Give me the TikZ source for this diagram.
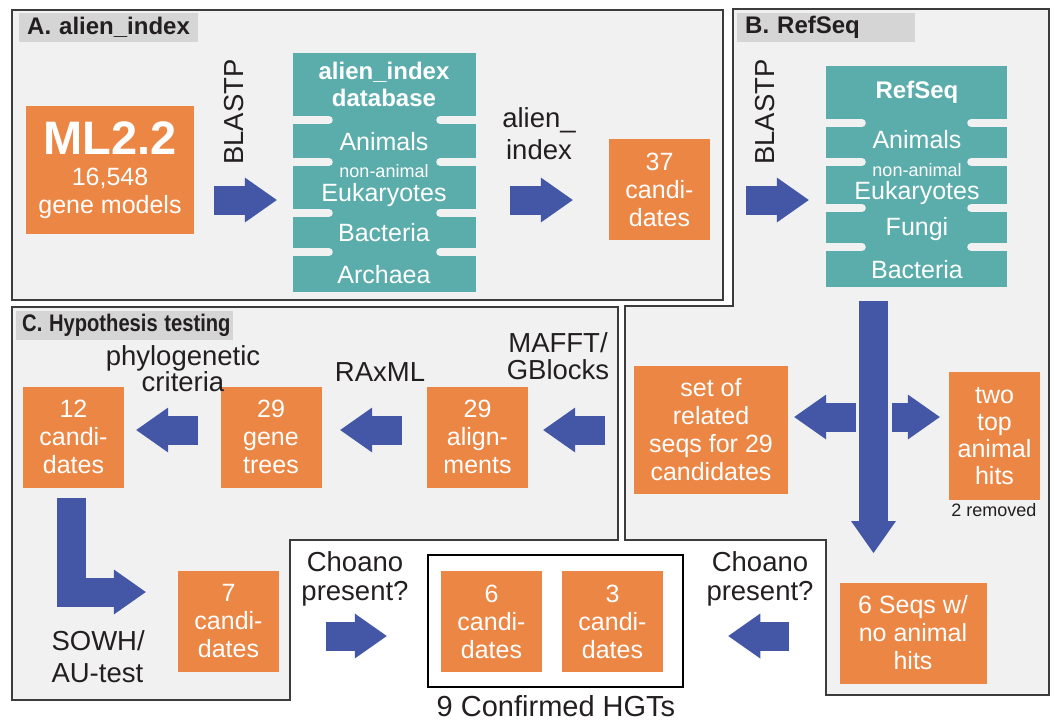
\documentclass[tikz,border=0pt]{standalone}
\usepackage{fontspec}
\setmainfont{Liberation Sans}
\usetikzlibrary{arrows.meta,calc}
\definecolor{boxorange}{RGB}{236,134,68}
\definecolor{dbteal}{RGB}{90,173,171}
\definecolor{arrowblue}{RGB}{67,87,166}
\definecolor{panelgray}{RGB}{241,241,241}
\definecolor{labelgray}{RGB}{213,213,213}
\definecolor{framegray}{RGB}{60,60,60}
\definecolor{inkblack}{RGB}{35,31,32}

\tikzset{
  panel/.style={draw=framegray,fill=panelgray,line width=1.5pt},
  paneltitle/.style={fill=labelgray,anchor=north west,minimum height=29pt,inner xsep=8pt,inner ysep=0pt,font=\fontsize{24}{24}\selectfont\bfseries,text=inkblack,align=left},
  candbox/.style={fill=boxorange,text=white,align=center,minimum width=101pt,minimum height=101pt,inner sep=0pt,font=\fontsize{25}{28}\selectfont},
  dbbox/.style={fill=dbteal,inner sep=0pt},
  dbtext/.style={text=white,inner sep=0pt,font=\fontsize{25}{25}\selectfont},
  dbsmall/.style={text=white,inner sep=0pt,font=\fontsize{18}{18}\selectfont},
  dbtitle/.style={text=white,font=\fontsize{24}{27}\selectfont\bfseries,align=center},
  notch/.style={draw=panelgray,line width=8pt,line cap=round},
  steplabel/.style={text=inkblack,font=\fontsize{27.5}{28}\selectfont,align=center},
  fatarrow/.style={draw=arrowblue,line width=29pt,-{Triangle[length=32pt,width=45pt,line width=0pt]}},
}

\begin{document}
\begin{tikzpicture}[x=1pt,y=-1pt]
  \useasboundingbox (0,0) rectangle (1054,721);

  % panels
  \draw[panel] (12,10) rectangle (723,300);
  \draw[panel] (733,9) -- (1049,9) -- (1049,695) -- (826,695) -- (826,540) -- (625,540) -- (625,306) -- (733,306) -- cycle;
  \draw[panel] (12,307) -- (618,307) -- (618,540) -- (290,540) -- (290,700) -- (12,700) -- cycle;

  \node[paneltitle,text width=163pt] (titleA) at (19,13) {A. alien\_index};
  \node[paneltitle,text width=162pt] (titleB) at (737,13) {B. RefSeq};
  \node[paneltitle,text width=205pt,inner xsep=6pt] (titleC) at (16,311) {\scalebox{0.84}[1]{C. Hypothesis testing}};

  % A. alien_index
  \node[candbox,minimum width=168pt,minimum height=128pt] (ml) at (110,170) {{\fontsize{47}{47}\selectfont\bfseries ML2.2}\\[3pt]16,548\\gene models};
  \node[steplabel,rotate=90] (blastA) at (234,112) {BLASTP};

  \node[dbbox,minimum width=183pt,minimum height=239pt] (aidb) at (384.5,172.5) {};
  \foreach \y in {120,162,213,252} {
    \draw[notch] (aidb.west |- 0,\y) ++(-4,0) -- ++(40,0);
    \draw[notch] (aidb.east |- 0,\y) ++(4,0) -- ++(-40,0);
  }
  \node[dbtitle] (aititle) at (384,84) {alien\_index\\database};
  \node[dbtext] (aianimals) at (384,142) {Animals};
  \node[dbsmall] (ainonanimal) at (384,171.5) {non-animal};
  \node[dbtext] (aieuk) at (384,195) {Eukaryotes};
  \node[dbtext] (aibact) at (384,233) {Bacteria};
  \node[dbtext] (aiarch) at (384,275) {Archaea};

  \node[steplabel,font=\fontsize{27.5}{32}\selectfont] (ailab) at (539,134) {alien\_\\index};
  \node[candbox] (c37) at (659.5,189.5) {37\\candi-\\dates};

  \draw[fatarrow,shorten <=20pt,shorten >=16pt] (ml.east |- 0,200) -- (aidb.west |- 0,200);
  \draw[fatarrow,shorten <=34pt,shorten >=36pt] (aidb.east |- 0,200) -- (c37.west |- 0,200);

  % B. RefSeq
  \node[steplabel,rotate=90] (blastB) at (765,112) {BLASTP};
  \node[dbbox,minimum width=181pt,minimum height=221pt] (refdb) at (916.5,176.5) {};
  \foreach \y in {123,162,208,247} {
    \draw[notch] (refdb.west |- 0,\y) ++(-4,0) -- ++(40,0);
    \draw[notch] (refdb.east |- 0,\y) ++(4,0) -- ++(-40,0);
  }
  \node[dbtitle] (rstitle) at (917,92) {RefSeq};
  \node[dbtext] (rsanimals) at (917,140) {Animals};
  \node[dbsmall] (rsnonanimal) at (917,170.5) {non-animal};
  \node[dbtext] (rseuk) at (917,193) {Eukaryotes};
  \node[dbtext] (rsfungi) at (917,229) {Fungi};
  \node[dbtext] (rsbact) at (917,270) {Bacteria};

  \coordinate (blastBtail) at (746,200);
  \draw[fatarrow,shorten >=17pt] (blastBtail) -- (refdb.west |- blastBtail);

  \node[candbox,minimum width=154pt,minimum height=128pt] (related) at (711,430) {set of\\related\\seqs for 29\\candidates};
  \node[candbox,minimum width=91pt,minimum height=128pt,font=\fontsize{25}{27}\selectfont] (tophits) at (994.5,436) {two\\top\\animal\\hits};
  \node[text=inkblack,font=\fontsize{18}{18}\selectfont] (removed) at (994,510) {2 removed};

  \coordinate (split) at (873.5,417);
  \coordinate (downend) at (873.5,553);
  \draw[fatarrow,shorten <=14pt] (refdb.south -| split) -- (downend);
  \draw[fatarrow,shorten <=17.5pt,shorten >=6pt] (split) -- (related.east |- split);
  \draw[fatarrow,shorten <=18.5pt,shorten >=9pt] (split) -- (tophits.west |- split);

  % C. Hypothesis testing
  \node[candbox] (c12) at (73.5,437) {12\\candi-\\dates};
  \node[candbox] (trees) at (271,437) {29\\gene\\trees};
  \node[candbox] (aligns) at (477.5,437) {29\\align-\\ments};
  \node[steplabel,font=\fontsize{27.5}{26}\selectfont] (phylo) at (183,369) {phylogenetic\\criteria};
  \node[steplabel] (raxml) at (380,372) {RAxML};
  \node[steplabel,font=\fontsize{27.5}{27}\selectfont] (mafft) at (558,356) {MAFFT/\\GBlocks};

  \draw[fatarrow,shorten <=29pt,shorten >=15pt] (related.west |- 0,430) -- (aligns.east |- 0,430);
  \draw[fatarrow,shorten <=25pt,shorten >=18.5pt] (aligns.west |- 0,430) -- (trees.east |- 0,430);
  \draw[fatarrow,shorten <=22.5pt,shorten >=12pt] (trees.west |- 0,430) -- (c12.east |- 0,430);

  \node[candbox] (c7) at (228.5,621.5) {7\\candi-\\dates};
  \node[steplabel,anchor=west,align=left,font=\fontsize{27.5}{32}\selectfont] (sowh) at (48,657) {SOWH/\\AU-test};
  \draw[fatarrow,line join=miter,shorten <=10pt,shorten >=32pt] (c12.south -| 71,0) |- (c7.west |- 0,592);

  % confirmed
  \node[draw=black,line width=2.5pt,fill=white,minimum width=255pt,minimum height=132pt] (confirmed) at (555.5,621) {};
  \node[candbox] (c6) at (491.5,621.5) {6\\candi-\\dates};
  \node[candbox] (c3) at (612.5,621.5) {3\\candi-\\dates};
  \node[text=inkblack,inner sep=1pt,font=\fontsize{29}{29}\selectfont] (hgt) at (556,706) {9 Confirmed HGTs};

  \node[candbox,minimum width=147pt] (noanimal) at (913,633) {6 Seqs w/\\no animal\\hits};

  \node[steplabel,font=\fontsize{27.5}{29}\selectfont] (choanoL) at (355,579) {Choano\\present?};
  \node[steplabel,font=\fontsize{27.5}{29}\selectfont] (choanoR) at (760,579) {Choano\\present?};

  \draw[fatarrow,shorten <=47pt,shorten >=40pt] (c7.east |- 0,636) -- (confirmed.west |- 0,636);
  \draw[fatarrow,shorten <=50.5pt,shorten >=44pt] (noanimal.west |- 0,636) -- (confirmed.east |- 0,636);
\end{tikzpicture}
\end{document}
